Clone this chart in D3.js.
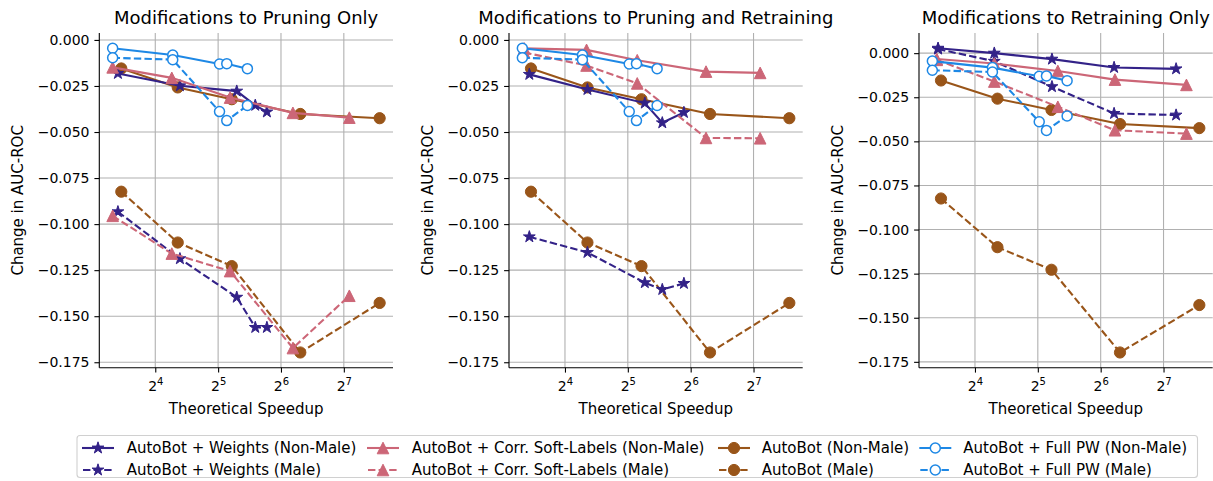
<!DOCTYPE html>
<html>
<head>
<meta charset="utf-8">
<script src="https://cdn.jsdelivr.net/npm/d3@7"></script>
<style>
  html, body { margin: 0; padding: 0; background: #fff; }
  svg { display: block; font-family: "DejaVu Sans", sans-serif; }
</style>
</head>
<body>
<svg id="chart" width="1213" height="481"></svg>
<script>
// ---- data -----------------------------------------------------------------
const panelTitles = [
  "Modifications to Pruning Only",
  "Modifications to Pruning and Retraining",
  "Modifications to Retraining Only"
];

// Baselines (identical in every panel)
const speedupAutoBot = [11.0, 20.5, 37.2, 79.2, 190];
const autoBotNonMale = [-0.0155, -0.0258, -0.0322, -0.0402, -0.0425];
const autoBotMale    = [-0.0824, -0.1100, -0.1228, -0.1697, -0.1428];

const speedupFullPW  = [10.0, 19.4, 32.5, 35.2, 44.2];
const fullPWNonMale  = [-0.0045, -0.0082, -0.0131, -0.0129, -0.0156];
const fullPWMale     = [-0.0097, -0.0107, -0.0389, -0.0438, -0.0356];

// AutoBot + Weights, per panel
const speedupWeights   = [[10.6, 21.0, 39.3, 48.2, 54.8], [10.8, 20.5, 38.6, 46.8, 59.4], [10.65, 19.8, 37.4, 74.2, 147]];
const weightsNonMale   = [[-0.0182, -0.0249, -0.0278, -0.0355, -0.0391], [-0.0187, -0.0269, -0.0343, -0.0450, -0.0394], [0.0028, 0.0000, -0.0034, -0.0081, -0.0089]];
const weightsMale      = [[-0.0933, -0.1188, -0.1397, -0.1561, -0.1561], [-0.1069, -0.1154, -0.1318, -0.1355, -0.1322], [0.0023, -0.0046, -0.0190, -0.0342, -0.0351]];

// AutoBot + Corr. Soft-Labels, per panel
const speedupSoft      = [[10.0, 19.2, 36.5, 73.0, 136], [10.2, 20.3, 35.5, 75.8, 137.7], [10.5, 19.8, 39.9, 74.9, 164.8]];
const softNonMale      = [[-0.0149, -0.0206, -0.0313, -0.0396, -0.0422], [-0.0046, -0.0054, -0.0110, -0.0172, -0.0179], [-0.0033, -0.0059, -0.0101, -0.0150, -0.0180]];
const softMale         = [[-0.0955, -0.1160, -0.1255, -0.1673, -0.1389], [-0.0068, -0.0139, -0.0236, -0.0532, -0.0534], [-0.0038, -0.0161, -0.0304, -0.0437, -0.0456]];

const yTicks = [0, -0.025, -0.05, -0.075, -0.1, -0.125, -0.15, -0.175];
const xTickExponents = [4, 5, 6, 7];

const legendLabels = [
  ["AutoBot + Weights (Non-Male)", "AutoBot + Weights (Male)"],
  ["AutoBot + Corr. Soft-Labels (Non-Male)", "AutoBot + Corr. Soft-Labels (Male)"],
  ["AutoBot (Non-Male)", "AutoBot (Male)"],
  ["AutoBot + Full PW (Non-Male)", "AutoBot + Full PW (Male)"]
];

// ---- style ----------------------------------------------------------------
const C = { weights: "#332288", soft: "#CC6677", autobot: "#995519", fullpw: "#1E88E5" };
const DASH = "7.4,3.2";

// marker paths (centred like matplotlib markers)
function starPath(R) {
  const r = R * 0.381966, pts = [];
  for (let i = 0; i < 10; i++) {
    const a = -Math.PI / 2 + i * Math.PI / 5, rr = i % 2 ? r : R;
    pts.push([rr * Math.cos(a), rr * Math.sin(a)]);
  }
  return "M" + pts.map(p => p[0].toFixed(2) + "," + p[1].toFixed(2)).join("L") + "Z";
}
function triPath(h) { return `M0,${-h}L${-h},${h}L${h},${h}Z`; }
function circPath(r) { return `M${r},0A${r},${r} 0 1,1 ${-r},0A${r},${r} 0 1,1 ${r},0Z`; }

const markers = {
  star:   { d: starPath(6.2), fill: true },
  tri:    { d: triPath(5.8), fill: true },
  circle: { d: circPath(5.6), fill: true },
  open:   { d: circPath(5.0), fill: false }
};

// ---- layout ---------------------------------------------------------------
const svg = d3.select("#chart");
const panelLeft = [99.3, 509, 919];
const panelW = 293.7, panelTop = 33, panelH = 334.7;

function padDomain(lo, hi, frac) { const s = hi - lo; return [lo - s * frac, hi + s * frac]; }

panelTitles.forEach((title, p) => {
  const series = [
    { x: speedupAutoBot, y: autoBotNonMale, color: C.autobot, m: "circle", dash: null },
    { x: speedupAutoBot, y: autoBotMale,    color: C.autobot, m: "circle", dash: DASH },
    { x: speedupWeights[p], y: weightsNonMale[p], color: C.weights, m: "star", dash: null },
    { x: speedupWeights[p], y: weightsMale[p],    color: C.weights, m: "star", dash: DASH },
    { x: speedupSoft[p], y: softNonMale[p], color: C.soft, m: "tri", dash: null },
    { x: speedupSoft[p], y: softMale[p],    color: C.soft, m: "tri", dash: DASH },
    { x: speedupFullPW, y: fullPWNonMale, color: C.fullpw, m: "open", dash: null },
    { x: speedupFullPW, y: fullPWMale,    color: C.fullpw, m: "open", dash: DASH }
  ];

  const allX = series.flatMap(s => s.x).map(Math.log2);
  const allY = series.flatMap(s => s.y);
  const lx = padDomain(d3.min(allX), d3.max(allX), 0.05);
  const ly = padDomain(d3.min(allY), d3.max(allY), 0.05);

  const x = d3.scaleLog().base(2).domain([2 ** lx[0], 2 ** lx[1]]).range([0, panelW]);
  const y = d3.scaleLinear().domain(ly).range([panelH, 0]);

  const g = svg.append("g").attr("transform", `translate(${panelLeft[p]},${panelTop})`);

  // grid
  const grid = g.append("g").attr("stroke", "#b0b0b0").attr("stroke-width", 1.1);
  xTickExponents.forEach(e => grid.append("line")
    .attr("x1", x(2 ** e)).attr("x2", x(2 ** e)).attr("y1", 0).attr("y2", panelH));
  yTicks.forEach(t => grid.append("line")
    .attr("x1", 0).attr("x2", panelW).attr("y1", y(t)).attr("y2", y(t)));

  // y axis
  const yAxis = g.append("g").call(
    d3.axisLeft(y).tickValues(yTicks).tickFormat(d3.format(".3f")).tickSize(4.9).tickPadding(4.9));
  yAxis.select(".domain").attr("stroke", "#000").attr("stroke-width", 1.1).attr("d", `M0,0V${panelH}`);
  yAxis.selectAll(".tick line").attr("stroke", "#000").attr("stroke-width", 1.1);
  yAxis.selectAll(".tick text").attr("font-size", 14).attr("fill", "#000")
    .attr("font-family", "DejaVu Sans");

  // x axis with power-of-two labels
  const xAxis = g.append("g").attr("transform", `translate(0,${panelH})`).call(
    d3.axisBottom(x).tickValues(xTickExponents.map(e => 2 ** e)).tickFormat("").tickSize(4.9));
  xAxis.select(".domain").attr("stroke", "#000").attr("stroke-width", 1.1).attr("d", `M0,0H${panelW}`);
  xAxis.selectAll(".tick line").attr("stroke", "#000").attr("stroke-width", 1.1);
  xAxis.selectAll(".tick").each(function (d) {
    const t = d3.select(this).append("text").attr("fill", "#000").attr("y", 23)
      .attr("text-anchor", "middle").attr("font-size", 14).attr("font-family", "DejaVu Sans");
    t.append("tspan").text("2");
    t.append("tspan").attr("dy", -6).attr("font-size", 10).text(Math.round(Math.log2(d)));
  });

  // axis labels and title
  g.append("text").attr("x", panelW / 2).attr("y", panelH + 46).attr("text-anchor", "middle")
    .attr("font-size", 15).attr("fill", "#000").text("Theoretical Speedup");
  g.append("text").attr("transform", `translate(-76,${panelH / 2}) rotate(-90)`)
    .attr("text-anchor", "middle").attr("font-size", 15).attr("fill", "#000").text("Change in AUC-ROC");
  g.append("text").attr("x", panelW / 2).attr("y", -9).attr("text-anchor", "middle")
    .attr("font-size", 18).attr("fill", "#000").text(title);

  // series
  const line = d3.line().x(d => x(d[0])).y(d => y(d[1]));
  series.forEach(s => {
    const pts = s.x.map((v, i) => [v, s.y[i]]);
    const sg = g.append("g");
    sg.append("path").attr("d", line(pts)).attr("fill", "none").attr("stroke", s.color)
      .attr("stroke-width", 2.1).attr("stroke-dasharray", s.dash);
    const mk = markers[s.m];
    sg.selectAll("path.m").data(pts).join("path").attr("class", "m")
      .attr("transform", d => `translate(${x(d[0])},${y(d[1])})`)
      .attr("d", mk.d)
      .attr("fill", mk.fill ? s.color : "#fff")
      .attr("stroke", s.color).attr("stroke-width", mk.fill ? 1 : 1.5);
  });
});

// ---- legend ---------------------------------------------------------------
const legend = svg.append("g");
legend.append("rect").attr("x", 77).attr("y", 435.5).attr("width", 1120.5).attr("height", 42)
  .attr("rx", 3).attr("fill", "#fff").attr("stroke", "#d0d0d0").attr("stroke-width", 1.1);

const legendCols = [
  { x0: 82, textX: 126.7, color: C.weights, m: "star" },
  { x0: 367, textX: 411.7, color: C.soft, m: "tri" },
  { x0: 718, textX: 761.7, color: C.autobot, m: "circle" },
  { x0: 919.3, textX: 963.3, color: C.fullpw, m: "open" }
];
const rowY = [448, 470];
legendCols.forEach((col, ci) => {
  rowY.forEach((ry, ri) => {
    const lg = legend.append("g");
    lg.append("line").attr("x1", col.x0).attr("x2", col.x0 + 32).attr("y1", ry).attr("y2", ry)
      .attr("stroke", col.color).attr("stroke-width", 2.1)
      .attr("stroke-dasharray", ri ? DASH : null)
      .attr("stroke-dashoffset", ri ? -1 : 0);
    const mk = markers[col.m];
    lg.append("path").attr("transform", `translate(${col.x0 + 16},${ry})`).attr("d", mk.d)
      .attr("fill", mk.fill ? col.color : "#fff").attr("stroke", col.color)
      .attr("stroke-width", mk.fill ? 1 : 1.5);
    lg.append("text").attr("x", col.textX).attr("y", ry + 5.3).attr("font-size", 15)
      .attr("fill", "#000").text(legendLabels[ci][ri]);
  });
});
</script>
</body>
</html>
